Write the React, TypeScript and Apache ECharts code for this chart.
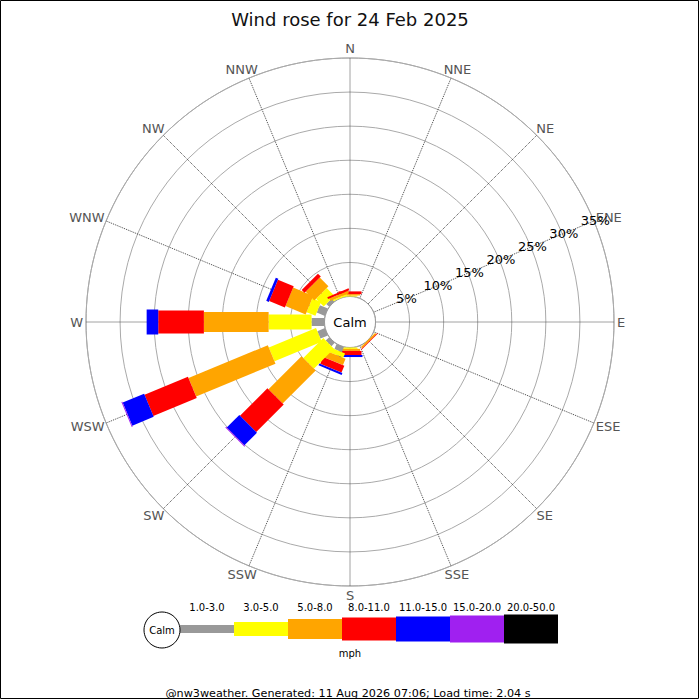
import React, { useEffect, useRef } from 'react';
import * as echarts from 'echarts';

// Compass directions, clockwise from North
const directions = ['N', 'NNE', 'NE', 'ENE', 'E', 'ESE', 'SE', 'SSE', 'S', 'SSW', 'SW', 'WSW', 'W', 'WNW', 'NW', 'NNW'];
// Speed bins (mph)
const speedBins = ['1.0-3.0', '3.0-5.0', '5.0-8.0', '8.0-11.0', '11.0-15.0', '15.0-20.0', '20.0-50.0'];
const binColors = ['#999999', '#ffff00', '#ffa500', '#ff0000', '#0000ff', '#a020f0', '#000000'];

// Percentage of time per direction for each speed bin (order follows `directions`)
const pct1to3 = [0, 0, 0, 0, 0, 0, 0, 0, 0, 0.8, 0.7, 1.2, 1.9, 1.3, 0.6, 0];
const pct3to5 = [0.15, 0, 0, 0, 0, 0, 0, 0, 0.2, 0.7, 4.15, 7.5, 6.3, 1.4, 1.6, 0.2];
const pct5to8 = [0.2, 0, 0, 0, 0, 0, 0.25, 0, 0.3, 1.0, 6.85, 12.6, 9.5, 3.2, 1.8, 0.4];
const pct8to11 = [0.4, 0, 0, 0, 0, 0, 0.1, 0, 0.6, 1.1, 5.7, 6.9, 6.7, 2.5, 0.6, 0.3];
const pct11to15 = [0, 0, 0, 0, 0, 0, 0, 0, 0.3, 0.3, 2.6, 3.4, 1.7, 0.4, 0, 0];
const pct15to20 = [0, 0, 0, 0, 0, 0, 0, 0, 0, 0, 0.15, 0.15, 0, 0, 0, 0];
const pct20to50 = [0, 0, 0, 0, 0, 0, 0, 0, 0, 0, 0, 0, 0, 0, 0, 0];

// Radial ticks (%)
const radiusTicks = [5, 10, 15, 20, 25, 30, 35];
const radiusMax = 35;
const radiusStep = 5;

const titleText = 'Wind rose for 24 Feb 2025';
const footerText = '@nw3weather. Generated: 11 Aug 2026 07:06; Load time: 2.04 s';
const unitText = 'mph';
const calmText = 'Calm';

const FONT = '"DejaVu Sans", Verdana, sans-serif';

function measure(text: string, font: string): number {
  try {
    const c = document.createElement('canvas').getContext('2d');
    if (c) {
      c.font = font;
      return c.measureText(text).width;
    }
  } catch (e) {
    /* ignore */
  }
  return text.length * 9;
}

export default function App() {
  const ref = useRef<HTMLDivElement>(null);

  useEffect(() => {
    if (!ref.current) return;
    const chart = echarts.init(ref.current, null, { renderer: 'svg' });

    const binSeries = [pct1to3, pct3to5, pct5to8, pct8to11, pct11to15, pct15to20, pct20to50];
    const binWidths = [8, 15, 20, 23, 25, 27, 29];
    const dirStep = 360 / directions.length;

    const data: number[][] = [];
    directions.forEach((_, i) => {
      let cum = 0;
      binSeries.forEach((arr, b) => {
        const v = arr[i];
        if (v > 0) {
          data.push([i * dirStep, cum, cum + v, b]);
          cum += v;
        }
      });
    });

    const cx = 350;
    const cy = 322;
    const rInner = 25.5;
    const rOuter = 264;

    // Spokes and direction labels
    const spokeGraphics: any[] = [];
    const labelFont = `13px ${FONT}`;
    directions.forEach((d, i) => {
      const th = ((90 - i * dirStep) * Math.PI) / 180;
      const c = Math.cos(th);
      const s = Math.sin(th);
      spokeGraphics.push({
        type: 'line',
        shape: { x1: cx + c * rInner, y1: cy - s * rInner, x2: cx + c * rOuter, y2: cy - s * rOuter },
        style: { stroke: '#444', lineWidth: 1, lineDash: [1, 1] },
        z: 1,
      });
      const w = measure(d, labelFont);
      const h = 13;
      const rl = 267;
      spokeGraphics.push({
        type: 'text',
        x: cx + c * rl + (w / 2) * c,
        y: cy - s * rl - (h / 2) * s,
        style: { text: d, fill: '#555', font: labelFont, align: 'center', verticalAlign: 'middle' },
        z: 3,
      });
    });

    // Radial percentage labels along the ENE spoke
    const thE = (22.5 * Math.PI) / 180;
    const radiusLabelGraphics = radiusTicks.map((v) => {
      const r = rInner + (v / radiusMax) * (rOuter - rInner) + 1.5;
      return {
        type: 'text',
        x: cx + Math.cos(thE) * r,
        y: cy - Math.sin(thE) * r,
        style: { text: v + '%', fill: '#000', font: `13px ${FONT}`, align: 'center', verticalAlign: 'middle' },
        z: 4,
      };
    });

    // Legend graphics
    const legendX0 = 180;
    const legendW = 54;
    const legendCy = 629;
    const legendH = [8, 14, 20, 23, 25, 27, 29];
    const legendGraphics: any[] = [];
    speedBins.forEach((label, b) => {
      legendGraphics.push({
        type: 'rect',
        shape: { x: legendX0 + legendW * b, y: legendCy - legendH[b] / 2, width: legendW, height: legendH[b] },
        style: { fill: binColors[b] },
      });
      legendGraphics.push({
        type: 'text',
        x: legendX0 + legendW * b + legendW / 2,
        y: 607,
        style: { text: label, fill: '#000', font: `10px ${FONT}`, align: 'center', verticalAlign: 'middle' },
      });
    });

    chart.setOption({
      animation: false,
      backgroundColor: '#ffffff',
      title: {
        text: titleText,
        left: 'center',
        top: 5,
        textStyle: { fontSize: 18, fontWeight: 'normal', color: '#111', fontFamily: FONT },
      },
      polar: { center: [cx, cy], radius: [rInner, rOuter] },
      angleAxis: {
        type: 'value',
        min: 0,
        max: 360,
        interval: dirStep,
        startAngle: 90,
        clockwise: true,
        axisLine: { show: true, lineStyle: { color: '#aaaaaa', width: 1 } },
        axisTick: { show: false },
        axisLabel: { show: false },
        splitLine: { show: false },
      },
      radiusAxis: {
        type: 'value',
        min: 0,
        max: radiusMax,
        interval: radiusStep,
        axisLine: { show: false },
        axisTick: { show: false },
        axisLabel: { show: false },
        splitLine: { show: true, lineStyle: { color: '#aaaaaa', width: 1, type: 'solid' } },
      },
      graphic: [
        {
          type: 'rect',
          shape: { x: 0.5, y: 0.5, width: 698, height: 698 },
          style: { fill: 'none', stroke: '#000', lineWidth: 1 },
          z: 10,
        },
        ...spokeGraphics,
        ...radiusLabelGraphics,
        {
          type: 'circle',
          shape: { cx, cy, r: rInner },
          style: { fill: '#ffffff', stroke: '#999999', lineWidth: 1 },
          z: 1,
        },
        {
          type: 'text',
          x: cx,
          y: cy,
          style: { text: calmText, fill: '#000', font: `13px ${FONT}`, align: 'center', verticalAlign: 'middle' },
          z: 5,
        },
        {
          type: 'circle',
          shape: { cx: 162, cy: 630, r: 18 },
          style: { fill: '#ffffff', stroke: '#000', lineWidth: 1 },
          z: 5,
        },
        {
          type: 'text',
          x: 162,
          y: 630,
          style: { text: calmText, fill: '#000', font: `10px ${FONT}`, align: 'center', verticalAlign: 'middle' },
          z: 6,
        },
        ...legendGraphics,
        {
          type: 'text',
          x: 350,
          y: 653,
          style: { text: unitText, fill: '#000', font: `10px ${FONT}`, align: 'center', verticalAlign: 'middle' },
        },
        {
          type: 'text',
          x: 348,
          y: 693,
          style: { text: footerText, fill: '#000', font: `11.2px ${FONT}`, align: 'center', verticalAlign: 'middle' },
        },
      ],
      series: [
        {
          type: 'custom',
          coordinateSystem: 'polar',
          silent: true,
          z: 2,
          encode: { radius: [1, 2], angle: 0 },
          data,
          renderItem: (params: any, api: any) => {
            const ang = api.value(0);
            const r0 = api.value(1);
            const r1 = api.value(2);
            const bin = api.value(3);
            const o = api.coord([0, ang]);
            const far = api.coord([radiusMax, ang]);
            let ux = far[0] - o[0];
            let uy = far[1] - o[1];
            const len = Math.sqrt(ux * ux + uy * uy) || 1;
            ux /= len;
            uy /= len;
            const px = -uy;
            const py = ux;
            const h = binWidths[bin] / 2;
            const a = api.coord([r0, ang]);
            const b = api.coord([r1, ang]);
            return {
              type: 'polygon',
              shape: {
                points: [
                  [a[0] + px * h, a[1] + py * h],
                  [b[0] + px * h, b[1] + py * h],
                  [b[0] - px * h, b[1] - py * h],
                  [a[0] - px * h, a[1] - py * h],
                ],
              },
              style: { fill: binColors[bin] },
            };
          },
        },
      ],
    });

    return () => {
      chart.dispose();
    };
  }, []);

  return (
    <div
      ref={ref}
      style={{ position: 'absolute', left: 0, top: 0, width: 700, height: 700, background: '#fff' }}
    />
  );
}
